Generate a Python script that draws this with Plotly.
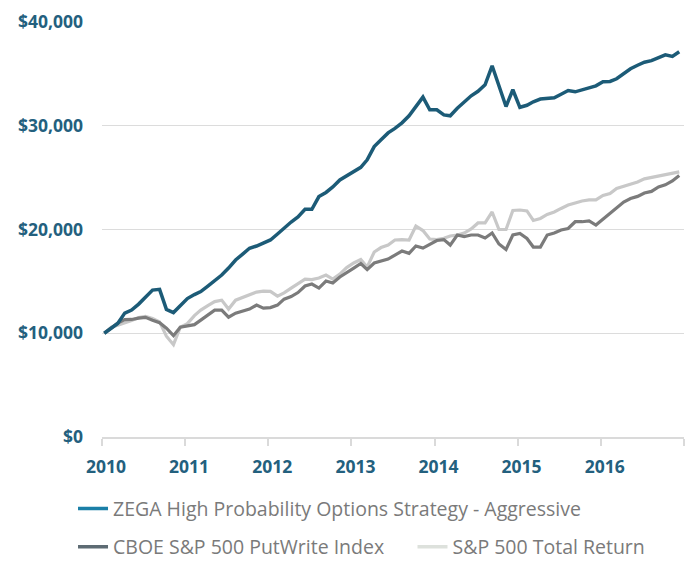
import pandas as pd
import plotly.graph_objects as go

# Monthly observation dates (Jan 2010 - Dec 2016)
dates = pd.date_range("2010-01-01", periods=84, freq="MS") + pd.Timedelta(days=10)

zega = [10000, 10490, 10950, 11940, 12230, 12810, 13480, 14160, 14230, 12300,
        11990, 12710, 13340, 13730, 14020, 14550, 15080, 15610, 16280, 17060,
        17630, 18190, 18410, 18700, 18990, 19570, 20150, 20720, 21210, 21950,
        21950, 23170, 23570, 24100, 24780, 25160, 25550, 25990, 26710, 27990,
        28640, 29310, 29750, 30280, 30960, 31850, 32760, 31540, 31540, 31050,
        30960, 31680, 32310, 32890, 33320, 33950, 35780, 33850, 31850, 33470,
        31780, 31970, 32310, 32570, 32630, 32690, 33030, 33400, 33270, 33470,
        33660, 33850, 34240, 34270, 34530, 35010, 35490, 35830, 36120, 36270,
        36550, 36840, 36680, 37130]

putwrite = [10000, 10490, 10970, 11310, 11330, 11460, 11530, 11260, 11020, 10490,
            9770, 10590, 10690, 10830, 11260, 11750, 12230, 12230, 11550, 11940,
            12130, 12330, 12710, 12420, 12470, 12710, 13290, 13530, 13920, 14550,
            14740, 14350, 15030, 14840, 15420, 15800, 16280, 16720, 16140, 16770,
            16960, 17150, 17540, 17920, 17700, 18410, 18210, 18600, 18940, 19030,
            18500, 19470, 19320, 19470, 19470, 19180, 19660, 18600, 18070, 19470,
            19610, 19130, 18310, 18310, 19470, 19660, 19950, 20100, 20750, 20750,
            20820, 20430, 21010, 21540, 22080, 22650, 22990, 23190, 23520, 23670,
            24100, 24300, 24680, 25210]

sp500 = [10000, 10590, 10780, 10970, 11220, 11510, 11620, 11410, 11100, 9720,
         8900, 10590, 10930, 11700, 12230, 12660, 13050, 13190, 12330, 13190,
         13440, 13680, 13970, 14060, 14040, 13580, 13890, 14350, 14790, 15220,
         15170, 15320, 15610, 15220, 15700, 16330, 16770, 17100, 16380, 17830,
         18260, 18500, 18990, 19030, 18990, 20340, 19900, 19080, 19030, 19150,
         19370, 19470, 19660, 20050, 20630, 20630, 21690, 20000, 20000, 21830,
         21880, 21790, 20870, 21060, 21450, 21690, 22030, 22360, 22560, 22750,
         22850, 22850, 23280, 23470, 23960, 24150, 24340, 24580, 24880, 25020,
         25160, 25260, 25410, 25550]

series_names = ["ZEGA High Probability Options Strategy - Aggressive",
                "CBOE S&P 500 PutWrite Index",
                "S&P 500 Total Return"]

year_ticks = ["2010-01-01", "2011-01-01", "2012-01-01", "2013-01-01",
              "2014-01-01", "2015-01-01", "2016-01-01", "2017-01-01"]
year_labels = ["2010", "2011", "2012", "2013", "2014", "2015", "2016", ""]
y_ticks = [0, 10000, 20000, 30000, 40000]
y_labels = ["$0", "$10,000", "$20,000", "$30,000", "$40,000"]

line_colors = ["#1c5b77", "#7b7b7b", "#c8c8c8"]
legend_colors = ["#1a7fa7", "#5d6b73", "#dde1dc"]

fig = go.Figure()
# draw order: light gray behind, then dark gray, then blue on top
for vals, color, width in [(sp500, line_colors[2], 3.2),
                           (putwrite, line_colors[1], 3.2),
                           (zega, line_colors[0], 3.5)]:
    fig.add_trace(go.Scatter(x=dates, y=vals, mode="lines",
                             line=dict(color=color, width=width),
                             showlegend=False, hoverinfo="skip"))

# legend entries
for name, color, lg in zip(series_names, legend_colors, ["legend", "legend2", "legend3"]):
    fig.add_trace(go.Scatter(x=[None], y=[None], mode="lines", name=name,
                             line=dict(color=color, width=3.5),
                             showlegend=True, legend=lg))

tick_font = dict(family="Open Sans", size=17.5, color="#23607e", weight="bold")
legend_font = dict(family="Open Sans", size=19.5, color="#7a7a7a")

fig.update_layout(
    width=689, height=561,
    margin=dict(l=102, r=5, t=22, b=124, autoexpand=False),
    paper_bgcolor="white", plot_bgcolor="white",
    xaxis=dict(type="date", range=["2010-01-01", "2017-01-01"],
               tickvals=year_ticks, ticktext=year_labels,
               showgrid=False, zeroline=False,
               showline=True, linecolor="#dadada", linewidth=1.5,
               ticks="outside", ticklen=7, tickwidth=1.5, tickcolor="#dadada",
               tickfont=tick_font, ticklabelstandoff=6, ticklabelshift=4),
    yaxis=dict(range=[0, 40000], tickvals=y_ticks, ticktext=y_labels,
               showgrid=True, gridcolor="#dcdcdc", gridwidth=1,
               zeroline=False, showline=False,
               tickfont=tick_font, ticklabelstandoff=18),
    legend=dict(orientation="h", x=-0.0498, xanchor="left", y=-0.1730, yanchor="middle",
                font=legend_font, bgcolor="rgba(0,0,0,0)"),
    legend2=dict(orientation="h", x=-0.0498, xanchor="left", y=-0.2650, yanchor="middle",
                 font=legend_font, bgcolor="rgba(0,0,0,0)"),
    legend3=dict(orientation="h", x=0.5335, xanchor="left", y=-0.2650, yanchor="middle",
                 font=legend_font, bgcolor="rgba(0,0,0,0)"),
)

fig.write_html("out.html", config={"displayModeBar": False},
               post_script="document.body.style.margin='0';document.body.style.overflow='hidden';")
